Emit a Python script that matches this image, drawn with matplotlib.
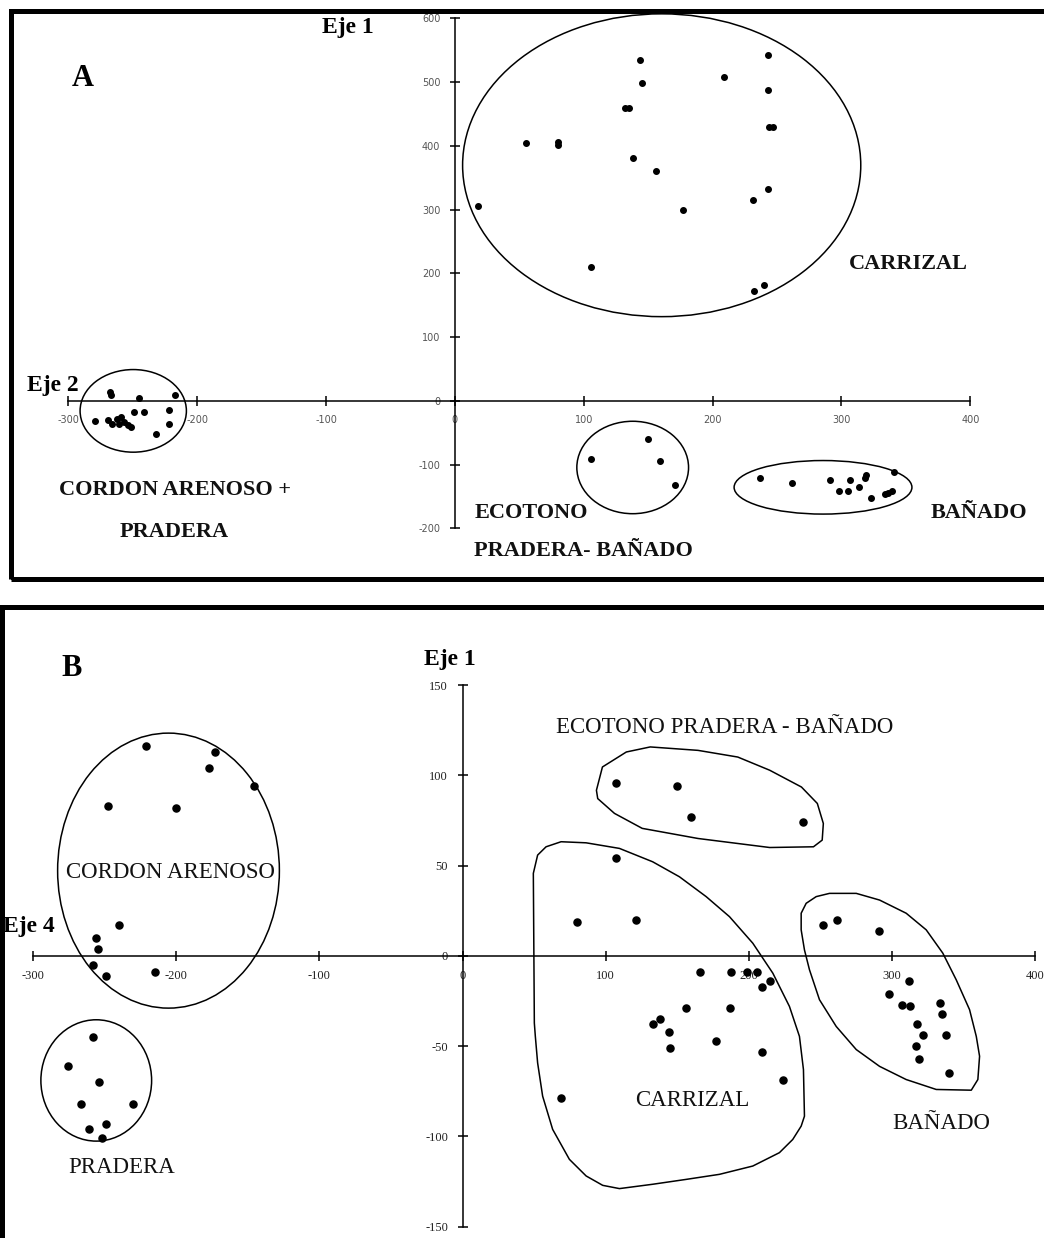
import matplotlib
matplotlib.use('Agg')
import matplotlib.pyplot as plt
from matplotlib.patches import Ellipse, Rectangle, Polygon

plt.rcParams['axes.unicode_minus'] = False

# ---------------- panel A data (Eje 2 vs Eje 1) ----------------
carrizal_a_x = [144, 145, 132, 135, 55, 80, 80, 138, 156, 18, 177, 106, 209,
                243, 243, 244, 247, 243, 231, 232, 240]
carrizal_a_y = [535, 498, 460, 460, 405, 401, 406, 381, 361, 306, 300, 210, 508,
                542, 487, 429, 429, 332, 315, 173, 182]
ecotono_a_x = [150, 106, 159, 171]
ecotono_a_y = [-60, -91, -94, -132]
banado_a_x = [237, 262, 291, 298, 305, 307, 314, 318, 319, 323, 334, 336, 339, 341]
banado_a_y = [-121, -129, -125, -142, -142, -125, -135, -121, -117, -153, -146,
              -145, -142, -111]
cordon_a_x = [-268, -267, -245, -217, -279, -269, -266, -262, -259, -257, -254,
              -251, -261, -249, -241, -222, -222, -232]
cordon_a_y = [14, 9, 4, 9, -31, -30, -36, -29, -26, -33, -38, -41, -37, -17,
              -17, -14, -36, -52]

# group ellipses: centre x, centre y, width, height (data units)
ellipses_a = [(160.5, 369.5, 309, 475),
              (138, -104.6, 86.7, 145),
              (285.7, -135.7, 138, 84),
              (-249.6, -15.8, 82.5, 129.6)]

xticks_a = [-300, -200, -100, 0, 100, 200, 300, 400]
yticks_a = [-200, -100, 0, 100, 200, 300, 400, 500, 600]

# ---------------- panel B data (Eje 4 vs Eje 1) ----------------
cordon_b_x = [-221, -173, -177, -146, -248, -200, -240, -256, -255, -258, -249, -215]
cordon_b_y = [116, 113, 104, 94, 83, 82, 17, 10, 4, -5, -11, -9]
pradera_b_x = [-258, -276, -254, -267, -230, -249, -261, -252]
pradera_b_y = [-45, -61, -70, -82, -82, -93, -96, -101]
ecotono_b_x = [107, 150, 160, 238]
ecotono_b_y = [96, 94, 77, 74]
carrizal_b_x = [107, 80, 121, 69, 166, 188, 199, 206, 215, 209, 156, 187, 138,
                133, 144, 145, 177, 209, 224]
carrizal_b_y = [54, 19, 20, -79, -9, -9, -9, -9, -14, -17, -29, -29, -35, -38,
                -42, -51, -47, -53, -69]
banado_b_x = [252, 262, 291, 312, 298, 307, 313, 334, 335, 318, 322, 338, 317, 319, 340]
banado_b_y = [17, 20, 14, -14, -21, -27, -28, -26, -32, -38, -44, -44, -50, -57, -65]

ellipses_b = [(-205.5, 47.2, 155, 152.3),
              (-256, -69, 77.4, 67.2)]

# hand drawn outlines (data units)
ecotono_b_outline = [(93.6, 91.7), (97.8, 104.6), (114.5, 112.9), (131.2, 115.7),
                     (164.6, 113.8), (192.4, 110.1), (214.7, 102.8), (236.9, 93.5),
                     (248, 84.4), (252.2, 73.3), (251.4, 64.1), (245.3, 60.4),
                     (214.7, 60), (164.6, 65), (125.6, 70.6), (106.2, 78.9),
                     (94.5, 87.1)]
carrizal_b_outline = [(50.2, -37.2), (49.5, 45.7), (52.5, 55.8), (58.4, 60.4),
                      (68.9, 63.2), (86.4, 62.6), (109.7, 59.5), (132.9, 52.1),
                      (151.6, 43.8), (170.3, 32.8), (186.6, 21.7), (202.9, 7),
                      (216.9, -9.6), (228.5, -28), (235.5, -44.6), (238.3, -63),
                      (239, -88.8), (236.7, -94.3), (230.8, -101.7), (221.5, -109),
                      (202.9, -116.4), (179.6, -121), (156.3, -123.8), (132.9, -126.5),
                      (109.7, -128.9), (98, -127.1), (86.4, -121.9), (74.7, -112.7),
                      (63, -96.1), (56, -77.7), (52.5, -59.3), (50.9, -44.6)]
banado_b_outline = [(236.7, 23.6), (240.2, 29.1), (247.2, 32.8), (256.5, 34.6),
                    (275.2, 34.6), (291.5, 30.9), (310.1, 23.6), (324.1, 14.4),
                    (335.7, 1.5), (345.1, -13.3), (354.4, -29.8), (359.1, -44.6),
                    (361.4, -55.6), (360.2, -68.5), (355.6, -74.4), (331.1, -74),
                    (310.1, -68.5), (291.5, -61.2), (275.2, -51.9), (261.2, -39.1),
                    (249.5, -24.3), (242.5, -7.7), (239, 3.3), (236.7, 14.4)]

xticks_b = [-300, -200, -100, 0, 100, 200, 300, 400]
yticks_b = [-150, -100, -50, 0, 50, 100, 150]

W, H = 1044, 1238
fig = plt.figure(figsize=(W / 100, H / 100), dpi=100)


def add_px_axes(x0, x1, y0, y1):
    # box given in pixels from the top left corner
    return fig.add_axes([x0 / W, 1 - y1 / H, (x1 - x0) / W, (y1 - y0) / H])


def cross_axes(ax, xlim, ylim, xticks, yticks, font, size, color):
    ax.set_xlim(*xlim)
    ax.set_ylim(*ylim)
    ax.patch.set_visible(False)
    for s in ['top', 'right']:
        ax.spines[s].set_visible(False)
    for s in ['left', 'bottom']:
        ax.spines[s].set_position(('data', 0))
        ax.spines[s].set_linewidth(1.1)
    ax.set_xticks(xticks)
    ax.set_yticks(yticks)
    ax.set_xticklabels([str(t) for t in xticks])
    ax.set_yticklabels([str(t) for t in yticks])
    ax.tick_params(direction='inout', length=7, width=1.1, pad=7,
                   labelsize=size, labelcolor=color)
    for lab in ax.get_xticklabels() + ax.get_yticklabels():
        lab.set_fontfamily(font)


serif = 'Liberation Serif'

# ---------------- panel A ----------------
fig.add_artist(Rectangle((10.8 / W, 1 - 579.2 / H), 1.2, (579.2 - 10.8) / H,
                         transform=fig.transFigure, fill=False, lw=3.6,
                         ec='black'))
ax1 = add_px_axes(68.3, 970.3, 18.3, 528.3)
cross_axes(ax1, (-300, 400), (-200, 600), xticks_a, yticks_a,
           'DejaVu Sans', 7, '#555555')

for xs, ys in [(carrizal_a_x, carrizal_a_y), (ecotono_a_x, ecotono_a_y),
               (banado_a_x, banado_a_y), (cordon_a_x, cordon_a_y)]:
    ax1.scatter(xs, ys, s=16, color='black', zorder=3, clip_on=False)
for cx, cy, w, h in ellipses_a:
    ax1.add_patch(Ellipse((cx, cy), w, h, fill=False, lw=1.1, ec='black',
                          clip_on=False))

lab_a = dict(family=serif, weight='bold', fontsize=16, color='#111111')
ax1.text(-297, 494, 'A', family=serif, weight='bold', fontsize=22)
ax1.text(-83, 586, 'Eje 1', family=serif, weight='bold', fontsize=17,
         ha='center', va='center')
ax1.text(-312, 24, 'Eje 2', family=serif, weight='bold', fontsize=17,
         ha='center', va='center')
ax1.text(352, 215, 'CARRIZAL', ha='center', va='center', **lab_a)
ax1.text(-217, -140, 'CORDON ARENOSO +', ha='center', va='center', **lab_a)
ax1.text(-218, -206, 'PRADERA', ha='center', va='center', **lab_a)
ax1.text(15, -176, 'ECOTONO', ha='left', va='center', **lab_a)
ax1.text(15, -236, 'PRADERA- BAÑADO', ha='left', va='center', **lab_a)
ax1.text(369, -176, 'BAÑADO', ha='left', va='center', **lab_a)

# ---------------- panel B ----------------
fig.add_artist(Rectangle((2 / W, -0.1), 1.2, 1 - 607.5 / H + 0.1,
                         transform=fig.transFigure, fill=False, lw=3.6,
                         ec='black'))
ax2 = add_px_axes(33.3, 1034.8, 685, 1226.7)
cross_axes(ax2, (-300, 400), (-150, 150), xticks_b, yticks_b,
           serif, 9, '#222222')

for xs, ys in [(cordon_b_x, cordon_b_y), (pradera_b_x, pradera_b_y),
               (ecotono_b_x, ecotono_b_y), (carrizal_b_x, carrizal_b_y),
               (banado_b_x, banado_b_y)]:
    ax2.scatter(xs, ys, s=26, color='black', zorder=3, clip_on=False)
for cx, cy, w, h in ellipses_b:
    ax2.add_patch(Ellipse((cx, cy), w, h, fill=False, lw=1.1, ec='black',
                          clip_on=False))
for outline in [ecotono_b_outline, carrizal_b_outline, banado_b_outline]:
    ax2.add_patch(Polygon(outline, closed=True, fill=False, lw=1.1, ec='black',
                          joinstyle='round', clip_on=False))

lab_b = dict(family=serif, fontsize=16.5, color='#111111', ha='center',
             va='center')
ax2.text(-273, 159, 'B', family=serif, weight='bold', fontsize=22,
         ha='center', va='center')
ax2.text(-9, 164, 'Eje 1', family=serif, weight='bold', fontsize=17,
         ha='center', va='center')
ax2.text(-303, 16, 'Eje 4', family=serif, weight='bold', fontsize=17,
         ha='center', va='center')
ax2.text(-204, 46, 'CORDON ARENOSO', **lab_b)
ax2.text(-238, -117, 'PRADERA', **lab_b)
ax2.text(183, 126.5, 'ECOTONO PRADERA - BAÑADO', **lab_b)
ax2.text(160.6, -80, 'CARRIZAL', **lab_b)
ax2.text(334.6, -93, 'BAÑADO', **lab_b)

fig.savefig('out.png', dpi=100)
